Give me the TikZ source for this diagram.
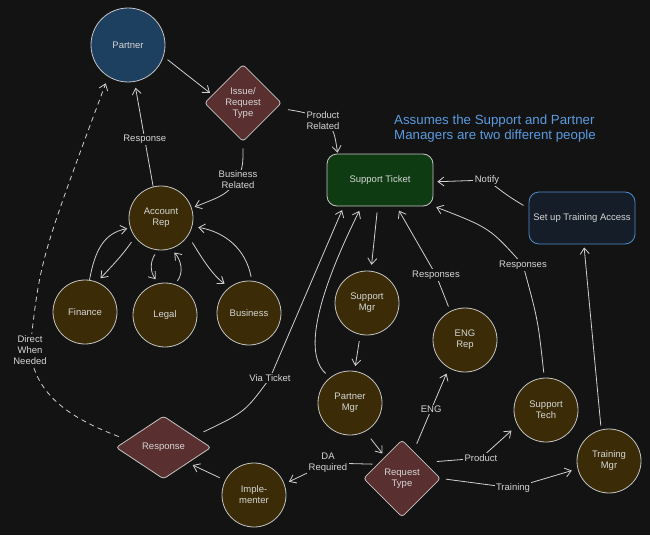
\documentclass[tikz,border=0pt]{standalone}
\usepackage{fontspec}
\setmainfont{Liberation Sans}
\usetikzlibrary{shapes.geometric,arrows.meta}
\definecolor{bg}{HTML}{131313}
\definecolor{txt}{HTML}{D6D6D6}
\definecolor{bord}{HTML}{C4C4C4}
\definecolor{lin}{HTML}{D0D0D0}
\definecolor{brn}{HTML}{3B2C07}
\definecolor{dred}{HTML}{5A2F2F}
\definecolor{pblue}{HTML}{1D3F60}
\definecolor{tgreen}{HTML}{0F3B12}
\definecolor{tblue}{HTML}{151D28}
\definecolor{bblue}{HTML}{4F8BD0}
\definecolor{notec}{HTML}{5B9BE0}
\begin{document}
\begin{tikzpicture}[x=1pt,y=-1pt,
  every node/.style={text=txt, font=\fontsize{9.5}{11}\selectfont, align=center},
  circ/.style={circle, draw=bord, line width=0.8pt, fill=brn, minimum size=64pt, inner sep=0pt},
  dia/.style={diamond, draw=bord, line width=0.8pt, fill=dred, minimum width=77pt, minimum height=77pt, inner sep=0pt, rounded corners=3pt},
  box/.style={rectangle, rounded corners=10pt, draw=bord, line width=0.8pt, minimum width=106pt, minimum height=52pt},
  lbl/.style={fill=bg, inner sep=1.5pt},
  notestyle/.style={text=notec, font=\fontsize{13.3}{15}\selectfont, align=left, inner sep=0pt, anchor=west},
  arr/.style={draw=lin, line width=0.8pt, -{Straight Barb[length=6pt,width=9pt]}},
]
\fill[bg] (0,0) rectangle (650,535);
\useasboundingbox (0,0) rectangle (650,535);

% nodes
\node[circ, fill=pblue, minimum size=74pt] (partner) at (128,45) {Partner};
\node[dia] (issue) at (243,103) {Issue/\\Request\\Type};
\node[circ] (acc) at (161,218) {Account\\Rep};
\node[circ] (fin) at (85,312) {Finance};
\node[circ] (legal) at (165,315) {Legal};
\node[circ] (bus) at (249,313) {Business};
\node[dia, minimum width=95pt, minimum height=63pt] (resp) at (163.5,447.5) {Response};
\node[circ] (impl) at (254,495) {Imple-\\menter};
\node[box, fill=tgreen] (ticket) at (380,180) {Support Ticket};
\node[box, fill=tblue, draw=bblue] (train) at (582,218) {Set up Training Access};
\node[circ] (smgr) at (367,303) {Support\\Mgr};
\node[circ] (eng) at (465,340) {ENG\\Rep};
\node[circ] (pmgr) at (350,403) {Partner\\Mgr};
\node[dia] (rtype) at (402,478.5) {Request\\Type};
\node[circ] (stech) at (546,410) {Support\\Tech};
\node[circ] (tmgr) at (609,461) {Training\\Mgr};
\node[notestyle] (note) at (394,129) {Assumes the Support and Partner\\Managers are two different people};

% connectors
\draw[arr, shorten <=5pt, shorten >=3pt] (partner.-18) -- (issue.165);
\draw[arr, shorten <=11pt, shorten >=1pt] (issue.-8) .. controls (308,113) .. (323,121) node[lbl]{Product\\Related} .. controls (334,130) .. (ticket.148);
\draw[arr, shorten <=6.5pt, shorten >=3pt] (issue.south) .. controls (243,165) .. (238,180) node[lbl]{Business\\Related} .. controls (225,195) .. (acc.18);
\draw[arr, shorten >=6pt] (acc.104) -- node[lbl, pos=0.45]{Response} (partner.-80);

\draw[arr, shorten >=3pt] (fin.82) .. controls (95,250) and (104,233) .. (acc.198);
\draw[arr, shorten <=6pt, shorten >=5pt] (acc.216) .. controls (122,256) and (110,268) .. (fin.68);
\draw[arr, shorten <=5pt, shorten >=5pt] (acc.264) .. controls (150,262) and (150,272) .. (legal.101);
\draw[arr, shorten <=4pt, shorten >=5pt] (legal.72) .. controls (184,272) and (181,260) .. (acc.-72);
\draw[arr, shorten <=8pt, shorten >=6pt] (acc.-33) .. controls (200,255) and (212,275) .. (bus.127);
\draw[arr, shorten <=4pt, shorten >=6pt] (bus.85) .. controls (246,250) and (226,232) .. (acc.-15);

\draw[arr, dash pattern=on 5pt off 4pt, shorten <=9pt, shorten >=7pt] (resp.168) .. controls (70,418) and (35,395) .. (30,350) node[lbl]{Direct\\When\\Needed} .. controls (40,260) .. (partner.238);
\draw[arr, shorten <=10pt, shorten >=4pt] (resp.20) .. controls (245,412) .. (270,378) node[lbl]{Via Ticket} -- (ticket.216);
\draw[arr, shorten <=6pt, shorten >=5pt] (pmgr.128) .. controls (300,350) and (325,280) .. (ticket.235);
\draw[arr, shorten <=6pt, shorten >=6pt] (ticket.265) -- (smgr.83);
\draw[arr, shorten <=6.5pt, shorten >=5pt] (smgr.258) -- (pmgr.82);
\draw[arr, shorten <=5pt, shorten >=5pt] (eng.117) -- (436,275) node[lbl]{Responses} -- (ticket.-58);
\draw[arr, shorten <=5pt, shorten >=3pt] (stech.93) .. controls (538,320) .. (523,265) node[lbl]{Responses} .. controls (490,228) .. (ticket.-26);
\draw[arr, shorten <=6pt, shorten >=4pt] (train.170) .. controls (508,196) .. (487,180) node[lbl]{Notify} -- (ticket.-2);
\draw[arr, shorten <=4pt, shorten >=3pt] (tmgr.104) -- (train.-86);

\draw[arr, shorten <=9pt, shorten >=4pt] (pmgr.-62) -- (rtype.128);
\draw[arr, shorten <=8pt, shorten >=6pt] (rtype.67) -- node[lbl]{ENG} (eng.240);
\draw[arr, shorten <=12pt, shorten >=8pt] (rtype.35) -- (481,458) node[lbl]{Product} -- (stech.208);
\draw[arr, shorten <=5pt, shorten >=6pt] (rtype.east) -- (513,488) node[lbl]{Training} -- (tmgr.194);
\draw[arr, shorten <=5pt, shorten >=5pt] (rtype.150) -- (328,463) node[lbl]{DA\\Required} -- (impl.20);
\draw[arr, shorten <=6pt, shorten >=5pt] (impl.153) -- (resp.-32);
\end{tikzpicture}
\end{document}
